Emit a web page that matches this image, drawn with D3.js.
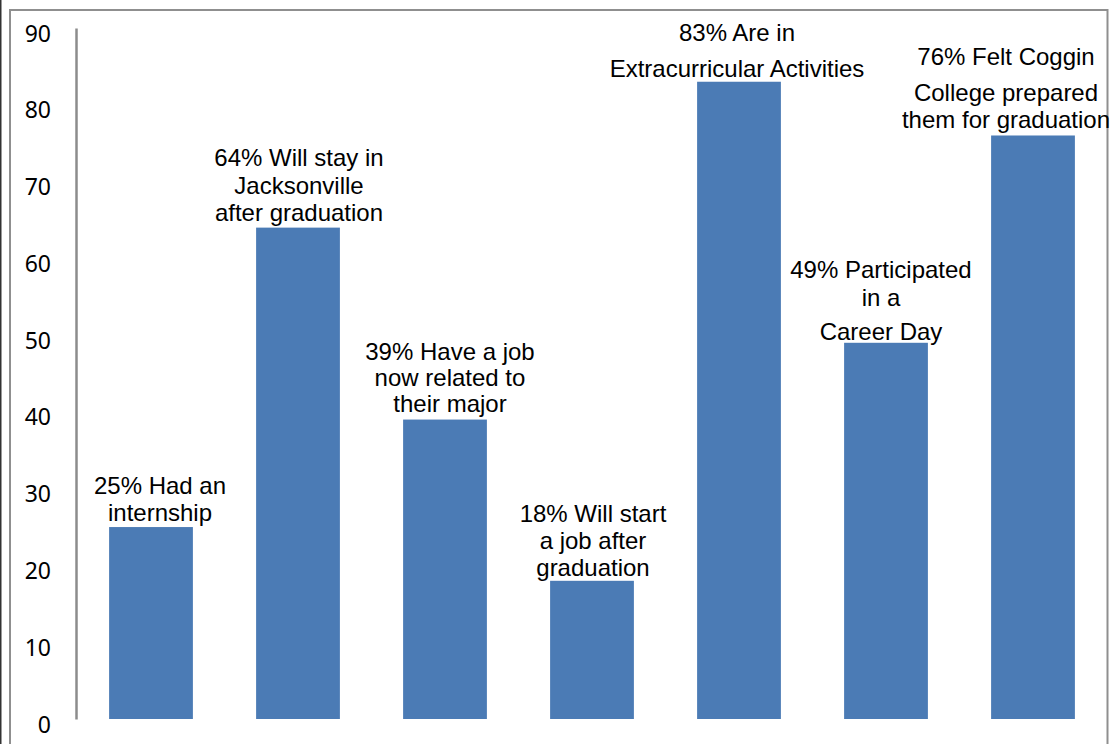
<!DOCTYPE html>
<html>
<head>
<meta charset="utf-8">
<script src="https://cdn.jsdelivr.net/npm/d3@7"></script>
<style>
  html, body { margin: 0; padding: 0; background: #fff; }
  svg { display: block; }
</style>
</head>
<body>
<svg id="chart" width="1111" height="744"></svg>
<script>
// ---- data ----
const categories = ["internship", "stayJax", "jobMajor", "startJob", "extracurricular", "careerDay", "prepared"];
const values = [25, 64, 39, 18, 83, 49, 76];
const labelLines = [
  ["25% Had an", "internship"],
  ["64% Will stay in", "Jacksonville", "after graduation"],
  ["39% Have a job", "now related to", "their major"],
  ["18% Will start", "a job after", "graduation"],
  ["83% Are in", "Extracurricular Activities"],
  ["49% Participated", "in a", "Career Day"],
  ["76% Felt Coggin", "College prepared", "them for graduation"]
];
const yTicks = [0, 10, 20, 30, 40, 50, 60, 70, 80, 90];

// ---- layout (label placement relative to bar top / bar center) ----
const labelDx = [9, 1, 5, 1, -2, -5, -27];
const labelBaselines = [
  [-33, -6],
  [-62, -34, -7],
  [-60, -34, -8],
  [-59, -32, -5],
  [-41, -5],
  [-65, -37, -3],
  [-70, -34, -7]
];

const svg = d3.select("#chart");

// frame
svg.append("line").attr("x1", 0.75).attr("x2", 0.75).attr("y1", 0).attr("y2", 744)
  .attr("stroke", "#333").attr("stroke-width", 1.5);
svg.append("path")
  .attr("d", "M10,744 V10 H1107.5 V744")
  .attr("fill", "none").attr("stroke", "#8f8f8f").attr("stroke-width", 2);

const x = d3.scaleBand().domain(categories).range([77.5, 1106.5])
  .paddingInner(0.43).paddingOuter(0.215);
const y = d3.scaleLinear().domain([0, 90]).range([719, 28]);

// bars
svg.append("g").selectAll("rect").data(values).join("rect")
  .attr("x", (d, i) => x(categories[i]))
  .attr("y", d => y(d))
  .attr("width", x.bandwidth())
  .attr("height", d => y(0) - y(d))
  .attr("fill", "#4b7bb5");

// y axis
const yAxis = d3.axisLeft(y).tickValues(yTicks).tickSize(0).tickPadding(25).tickFormat(d3.format("d"));
const gAxis = svg.append("g").attr("transform", "translate(76,0)").call(yAxis);
gAxis.select(".domain").attr("stroke", "#8c8c8c").attr("stroke-width", 2.5);
gAxis.selectAll(".tick text")
  .attr("font-family", "'Noto Sans', sans-serif")
  .attr("font-size", 23)
  .attr("fill", "#000")
  .attr("dy", null)
  .attr("y", 13);

// labels
const gLabels = svg.append("g")
  .attr("font-family", "'Liberation Sans', Arial, sans-serif")
  .attr("font-size", 24)
  .attr("fill", "#000")
  .attr("text-anchor", "middle");
labelLines.forEach((lines, i) => {
  const cx = x(categories[i]) + x.bandwidth() / 2 + labelDx[i];
  const top = y(values[i]);
  lines.forEach((t, j) => {
    gLabels.append("text")
      .attr("x", cx)
      .attr("y", top + labelBaselines[i][j])
      .text(t);
  });
});
</script>
</body>
</html>
